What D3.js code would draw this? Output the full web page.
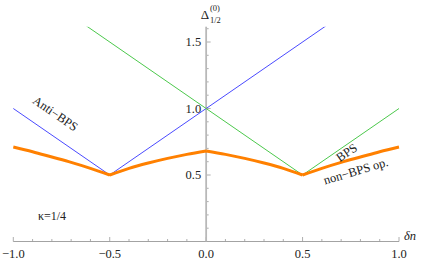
<!DOCTYPE html>
<html><head><meta charset="utf-8">
<script src="https://cdn.jsdelivr.net/npm/d3@7"></script>
<style>body{margin:0;background:#fff}svg{display:block}</style>
</head><body>
<svg id="c" width="423" height="262" font-family="'Liberation Serif','Times New Roman',serif"></svg>
<script>
// data
const antiX = [-1, -0.5, 1];
const antiY = [1.0, 0.5, 2.0];
const bpsX = [-1, 0.5, 1];
const bpsY = [2.0, 0.5, 1.0];
const nonX = [-1.0,-0.9,-0.8,-0.7,-0.6,-0.5,-0.4,-0.3,-0.2,-0.1,0.0,0.1,0.2,0.3,0.4,0.5,0.6,0.7,0.8,0.9,1.0];
const nonY = [0.71,0.675,0.635,0.595,0.55,0.5,0.55,0.59,0.625,0.655,0.68,0.655,0.625,0.59,0.55,0.5,0.55,0.595,0.635,0.675,0.71];
const xTicks = [-1.0,-0.5,0.0,0.5,1.0];
const xTickLabels = ["−1.0","−0.5","0.0","0.5","1.0"];
const yTicks = [0.5,1.0,1.5];
const yTickLabels = ["0.5","1.0","1.5"];

const svg = d3.select("#c");
const x = d3.scaleLinear().domain([-1,1]).range([13.3,399]);
const y = d3.scaleLinear().domain([0,1]).range([241.5,108.5]);
const yTop = 1.615;

svg.append("clipPath").attr("id","clip").append("rect")
  .attr("x",x(-1)-2).attr("y",y(yTop)).attr("width",x(1)-x(-1)+4).attr("height",y(0)-y(yTop));

const g = svg.append("g");
const xMinor = d3.range(-10,11).map(d=>d/10);
const yMinor = d3.range(1,17).map(d=>d/10).filter(d=>d<=yTop);
const axisCol = "#999";
g.selectAll(".xm").data(xMinor).join("line")
  .attr("x1",d=>x(d)).attr("x2",d=>x(d))
  .attr("y1",y(0)).attr("y2",d=>y(0)-(xTicks.some(t=>Math.abs(t-d)<1e-9)?4.5:2.5))
  .attr("stroke",axisCol).attr("stroke-width",0.8);
g.selectAll(".ym").data(yMinor).join("line")
  .attr("y1",d=>y(d)).attr("y2",d=>y(d))
  .attr("x1",x(0)).attr("x2",d=>x(0)+(yTicks.some(t=>Math.abs(t-d)<1e-9)?4.5:2.5))
  .attr("stroke",axisCol).attr("stroke-width",0.8);
g.append("line").attr("x1",x(-1)).attr("x2",x(1)).attr("y1",y(0)).attr("y2",y(0))
  .attr("stroke",axisCol).attr("stroke-width",0.9);
g.append("line").attr("x1",x(0)).attr("x2",x(0)).attr("y1",y(0)).attr("y2",y(yTop))
  .attr("stroke","#b8b8b8").attr("stroke-width",1.8);

g.selectAll(".xl").data(xTicks).join("text")
  .attr("x",d=>x(d)).attr("y",y(0)+16).attr("text-anchor","middle")
  .attr("font-size",12.5).attr("fill","#222").text((d,i)=>xTickLabels[i]);
g.selectAll(".yl").data(yTicks).join("text")
  .attr("x",x(0)-5).attr("y",d=>y(d)+4).attr("text-anchor","end")
  .attr("font-size",12.5).attr("fill","#222").text((d,i)=>yTickLabels[i]);

// lines
const line = d3.line().x(d=>x(d[0])).y(d=>y(d[1]));
const pl = svg.append("g").attr("clip-path","url(#clip)");
pl.append("path").datum(antiX.map((v,i)=>[v,antiY[i]])).attr("d",line)
  .attr("fill","none").attr("stroke","#4a4aff").attr("stroke-width",1);
pl.append("path").datum(bpsX.map((v,i)=>[v,bpsY[i]])).attr("d",line)
  .attr("fill","none").attr("stroke","#4cc84c").attr("stroke-width",1);
// non-BPS: smooth within each monotone piece, sharp kinks at -0.5, 0, 0.5
const pts = nonX.map((v,i)=>[v,nonY[i]]);
const breaks = [-1,-0.5,0,0.5,1];
const pieces = d3.range(4).map(k=>pts.filter(p=>p[0]>=breaks[k]-1e-9 && p[0]<=breaks[k+1]+1e-9));
const sm = d3.line().x(d=>x(d[0])).y(d=>y(d[1])).curve(d3.curveMonotoneX);
const pathD = pieces.map(p=>sm(p)).join("");
pl.append("path").attr("d",pathD)
  .attr("fill","none").attr("stroke","#ff8000").attr("stroke-width",3).attr("stroke-linejoin","round");

// labels
const ang = Math.atan((y(0)-y(1))/(x(1)-x(0)))*180/Math.PI;
svg.append("text").attr("transform",`translate(53,117) rotate(${ang})`)
  .attr("text-anchor","middle").attr("font-size",12.5).attr("fill","#222").text("Anti−BPS");
svg.append("text").attr("transform",`translate(349,156) rotate(${-ang})`)
  .attr("text-anchor","middle").attr("font-size",12.5).attr("fill","#222").text("BPS");
svg.append("text").attr("transform",`translate(357,175) rotate(-16.5)`)
  .attr("text-anchor","middle").attr("font-size",12.5).attr("fill","#222").text("non−BPS op.");
svg.append("text").attr("x",52).attr("y",220).attr("text-anchor","middle")
  .attr("font-size",12).attr("fill","#222").text("κ=1/4");
// axis titles
svg.append("text").attr("x",209).attr("y",19).attr("text-anchor","end").attr("font-size",13).attr("fill","#222").text("Δ");
svg.append("text").attr("x",210).attr("y",11).attr("font-size",8.5).attr("fill","#222").text("(0)");
svg.append("text").attr("x",210).attr("y",23).attr("font-size",8.5).attr("fill","#222").text("1/2");
svg.append("text").attr("x",404).attr("y",240).attr("font-size",12.5).attr("font-style","italic").attr("fill","#222").text("δn");
</script>
</body></html>
